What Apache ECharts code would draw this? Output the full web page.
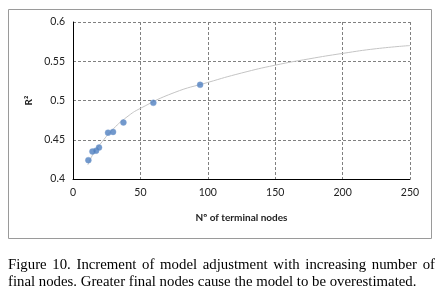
<!DOCTYPE html>
<html>
<head>
<meta charset="utf-8">
<script src="https://cdn.jsdelivr.net/npm/echarts@6/dist/echarts.min.js"></script>
<style>
  html, body { margin: 0; padding: 0; background: #fff; }
  #chart { width: 441px; height: 298px; }
</style>
</head>
<body>
<div id="chart"></div>
<script>
// 数据
var nodes = [11.4, 14.4, 17.1, 19.3, 26.0, 29.7, 37.4, 59.6, 94.3];
var r2 = [0.424, 0.435, 0.436, 0.440, 0.459, 0.460, 0.472, 0.497, 0.520];
// 趋势线
var trendX = [11, 15, 20, 30, 40, 50, 75, 100, 125, 150, 175, 200, 225, 250];
var trendY = [0.418, 0.432, 0.444, 0.464, 0.479, 0.490, 0.510, 0.523, 0.535, 0.545, 0.553, 0.560, 0.566, 0.570];
var captionLines = [
    'Figure 10. Increment of model adjustment with increasing number of',
    'final nodes. Greater final nodes cause the model to be overestimated.'
];

var myChart = echarts.init(document.getElementById('chart'));

var gridLine = { show: true, lineStyle: { color: '#808080', type: [3, 2], width: 1 } };
var labelFont = { fontFamily: 'Lato', fontSize: 10.5, color: '#222' };

// 图注：第一行两端对齐
var capFont = '14.8px "Liberation Serif"';
var ctx = document.createElement('canvas').getContext('2d');
ctx.font = capFont;
var words = captionLines[0].split(' ');
var widths = words.map(function (w) { return ctx.measureText(w).width; });
var total = widths.reduce(function (a, b) { return a + b; }, 0);
var gap = (427 - total) / (words.length - 1);
var captionGraphics = [];
var cx = 8;
words.forEach(function (w, i) {
    captionGraphics.push({
        type: 'text', x: cx, y: 258,
        style: { text: w, font: capFont, fill: '#000' }
    });
    cx += widths[i] + gap;
});
captionGraphics.push({
    type: 'text', x: 8, y: 275,
    style: { text: captionLines[1], font: capFont, fill: '#000' }
});

var option = {
    animation: false,
    grid: { left: 73, right: 31, top: 22, bottom: 119 },
    xAxis: {
        type: 'value',
        min: 0, max: 250, interval: 50,
        name: 'Nº of terminal nodes',
        nameLocation: 'middle',
        nameGap: 34,
        nameTextStyle: { fontFamily: 'Lato', fontSize: 10, fontWeight: 'bold', color: '#222' },
        axisLine: { onZero: false, lineStyle: { color: '#000', width: 1 } },
        axisTick: { show: false },
        axisLabel: Object.assign({ margin: 8 }, labelFont),
        splitLine: gridLine
    },
    yAxis: {
        type: 'value',
        min: 0.4, max: 0.6, interval: 0.05,
        name: 'R²',
        nameLocation: 'middle',
        nameGap: 28,
        nameRotate: 90,
        nameTextStyle: { fontFamily: 'Lato', fontSize: 10, fontWeight: 'bold', color: '#222' },
        axisLine: { show: true, lineStyle: { color: '#000', width: 1 } },
        axisTick: { show: false },
        axisLabel: Object.assign({ margin: 8 }, labelFont),
        splitLine: gridLine
    },
    graphic: [
        {
            type: 'rect',
            shape: { x: 8.5, y: 9.5, width: 423, height: 229 },
            style: { fill: 'none', stroke: '#9a9a9a', lineWidth: 1 },
            z: -1
        }
    ].concat(captionGraphics),
    series: [
        {
            type: 'line',
            data: trendX.map(function (x, i) { return [x, trendY[i]]; }),
            smooth: true,
            showSymbol: false,
            lineStyle: { color: '#c4c4c4', width: 1 },
            z: 1
        },
        {
            type: 'scatter',
            data: nodes.map(function (x, i) { return [x, r2[i]]; }),
            symbolSize: 6,
            itemStyle: { color: '#4f7fc0', borderColor: '#7c9fd0', borderWidth: 0.5 },
            z: 2
        }
    ]
};

myChart.setOption(option);
</script>
</body>
</html>
